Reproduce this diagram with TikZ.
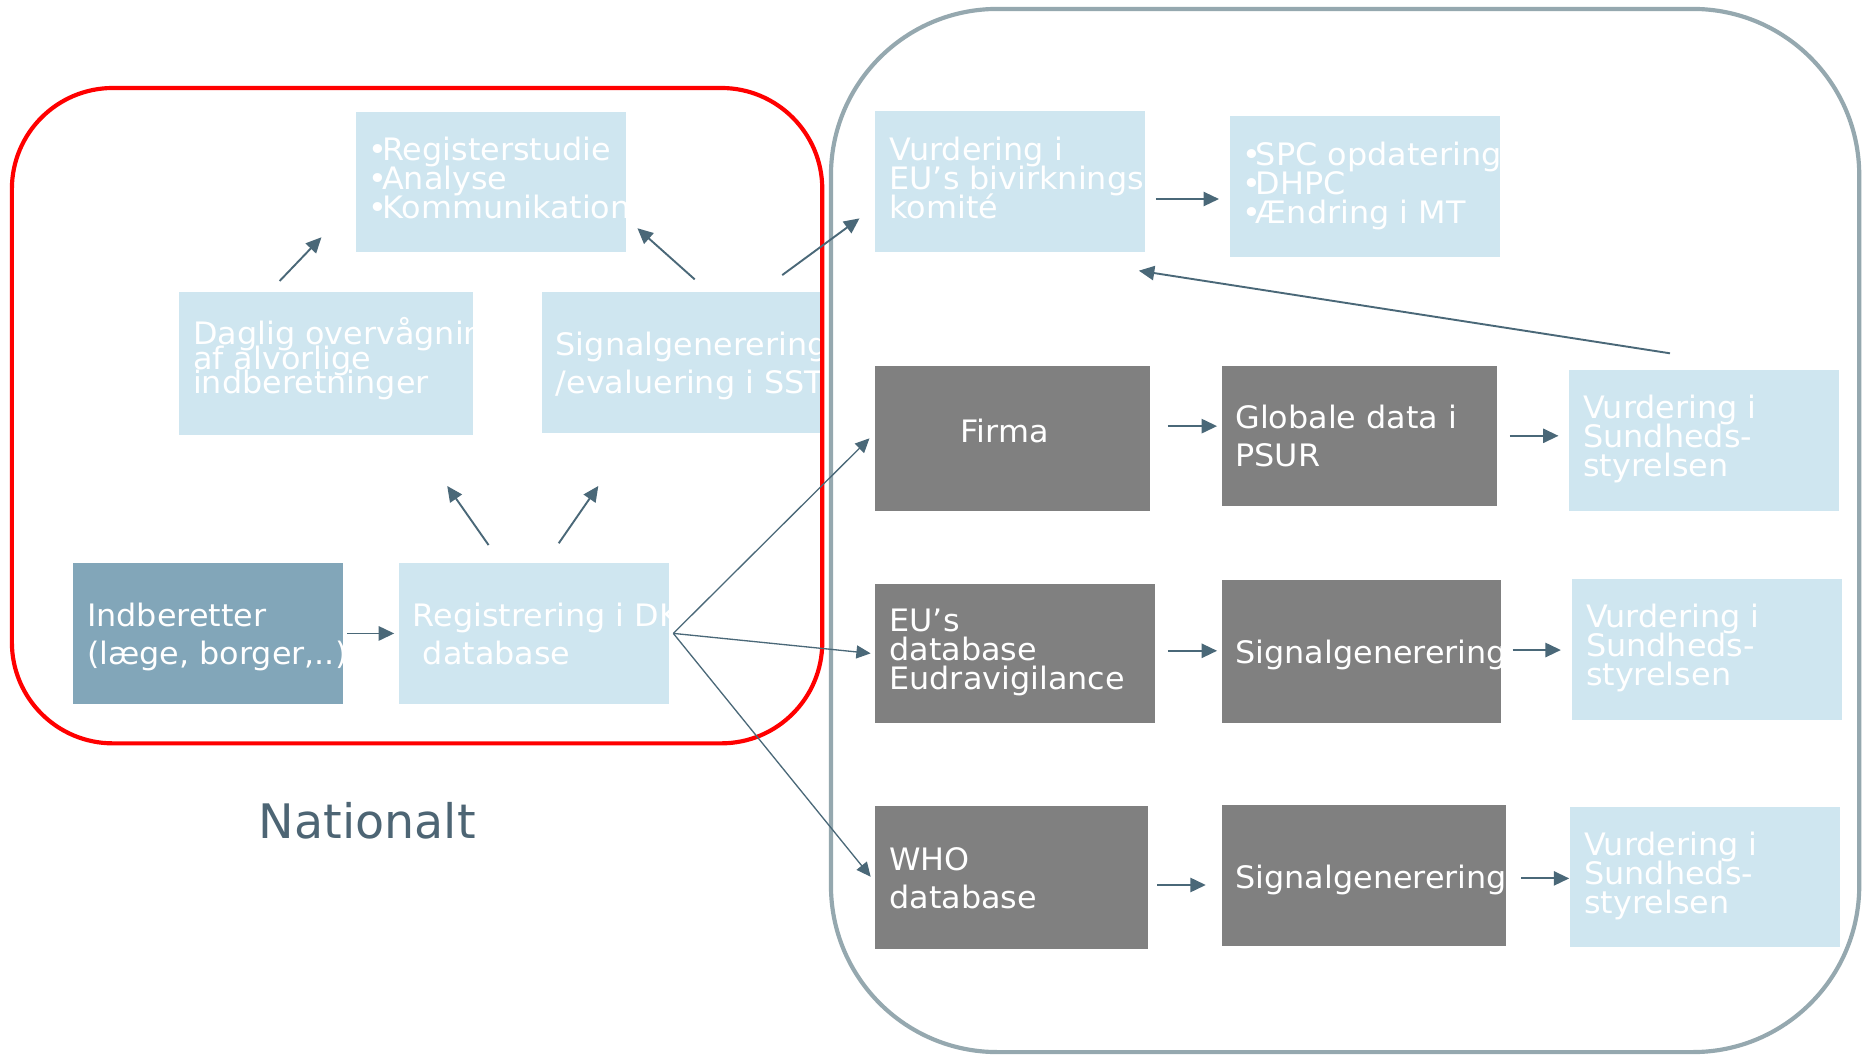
\documentclass[tikz,border=0pt]{standalone}
\usepackage{fontspec}
\setmainfont{DejaVu Sans}
\newfontfamily\boxfont{DejaVu Sans}[FakeStretch=1.03]
\usetikzlibrary{arrows.meta,calc}
\definecolor{lb}{HTML}{CFE6F0}
\definecolor{ib}{HTML}{82A6B9}
\definecolor{gb}{HTML}{808080}
\definecolor{arrc}{HTML}{4A6878}
\definecolor{framec}{HTML}{95A8AF}
\definecolor{natc}{HTML}{4D6574}
\newcommand\ml[2]{\vtop{\baselineskip=#1\lineskiplimit=-200pt\lineskip=0pt\relax#2}}
\newcommand\bul{•\kern-4.5pt}
\newcommand\mkbox[6]{\node[#1, minimum width={(#5)-(#3)}, minimum height={(#6)-(#4)}] (#2) at (#3,#4) {};}
\newcommand\bt[4]{\begin{scope}\clip (#1.south west) rectangle (#1.north east);
  \node[txt] (#1-t) at (#2,#3) {#4};\end{scope}}
\tikzset{
  bx/.style={anchor=north west, inner sep=0pt, outer sep=0pt, draw=none},
  lbx/.style={bx, fill=lb},
  ibx/.style={bx, fill=ib},
  gbx/.style={bx, fill=gb},
  txt/.style={inner sep=0pt, anchor=base west, text=white, font=\boxfont\fontsize{26}{30}\selectfont},
  arr/.style={draw=arrc, line width=1.6pt, -{Triangle[length=13pt,width=12pt]}},
  fan/.style={draw=arrc, line width=1.1pt, -{Triangle[length=12pt,width=11pt]}},
  frameR/.style={draw=red, line width=3.5pt, rounded corners=85pt},
  frameG/.style={draw=framec, line width=3.5pt, rounded corners=140pt},
}
\begin{document}
\begin{tikzpicture}[x=1pt,y=-1pt]
\useasboundingbox[fill=white] (0,0) rectangle (1568,887);
% boxes
\mkbox{lbx}{regs}{299.5}{94}{526.6}{212}
\mkbox{lbx}{dag}{150.5}{245.6}{398}{366}
\mkbox{lbx}{sst}{456}{245.6}{691.5}{364}
\mkbox{ibx}{ind}{61.3}{473.7}{288.4}{592}
\mkbox{lbx}{reg}{335.6}{473.7}{562.8}{592}
\mkbox{lbx}{euv}{736}{93.4}{963}{212}
\mkbox{lbx}{spc}{1034.6}{97.6}{1261.8}{216}
\mkbox{gbx}{firma}{736}{307.6}{967.4}{429.9}
\mkbox{gbx}{glob}{1028}{307.6}{1259}{425.6}
\mkbox{lbx}{va}{1320}{311.2}{1547}{429.6}
\mkbox{gbx}{eudb}{735.7}{491.5}{971.4}{608}
\mkbox{gbx}{sigb}{1028}{488}{1263}{608}
\mkbox{lbx}{vb}{1322.5}{487}{1549.5}{605.7}
\mkbox{gbx}{who}{735.7}{677.7}{965.7}{798.6}
\mkbox{gbx}{sigc}{1028}{677.4}{1267}{796}
\mkbox{lbx}{vc}{1320.7}{678.9}{1548}{797}
% texts
\bt{regs}{310}{135.4}{\ml{24.3pt}{\hbox{\bul Registerstudie}\hbox{\bul Analyse}\hbox{\bul Kommunikation}}}
\bt{dag}{162.2}{290.2}{\ml{20.3pt}{\hbox{Daglig overvågning}\hbox{af alvorlige}\hbox{indberetninger}}}
\bt{sst}{467.3}{298.9}{\ml{32pt}{\hbox{Signalgenerering}\hbox{/evaluering i SST}}}
\bt{ind}{73}{527.2}{\ml{31.4pt}{\hbox{Indberetter}\hbox{(læge, borger,..)}}}
\bt{reg}{347}{527.2}{\ml{31.4pt}{\hbox{Registrering i DK}\hbox{\ database}}}
\bt{euv}{748}{134.6}{\ml{24.5pt}{\hbox{Vurdering i}\hbox{EU’s bivirknings}\hbox{komité}}}
\bt{spc}{1045}{138.8}{\ml{24.5pt}{\hbox{\bul SPC opdatering}\hbox{\bul DHPC}\hbox{\bul Ændring i MT}}}
\bt{firma}{808}{372.4}{Firma}
\bt{glob}{1039}{360.3}{\ml{32.3pt}{\hbox{Globale data i}\hbox{PSUR}}}
\bt{va}{1331.7}{351.9}{\ml{24.5pt}{\hbox{Vurdering i}\hbox{Sundheds-}\hbox{styrelsen}}}
\bt{eudb}{748}{531.4}{\ml{24.5pt}{\hbox{EU’s}\hbox{database}\hbox{Eudravigilance}}}
\bt{sigb}{1039}{558}{Signalgenerering}
\bt{vb}{1334}{527.7}{\ml{24.5pt}{\hbox{Vurdering i}\hbox{Sundheds-}\hbox{styrelsen}}}
\bt{who}{748}{731.9}{\ml{32.2pt}{\hbox{WHO}\hbox{database}}}
\bt{sigc}{1039}{747.3}{Signalgenerering}
\bt{vc}{1332.5}{719.3}{\ml{24.5pt}{\hbox{Vurdering i}\hbox{Sundheds-}\hbox{styrelsen}}}
\node[inner sep=0pt, anchor=base west, text=natc, font=\fontsize{40}{48}\selectfont] (nat) at (217.6,705.2) {Nationalt};
% frames
\draw[frameR] (10,74) rectangle (691.7,625.3);
\draw[frameG] (699,7.5) rectangle (1564,885);
% connector points
\coordinate (dagS) at (235.2,236.4); \coordinate (dagE) at (270.4,199.6);
\coordinate (sstS) at (584.4,235);   \coordinate (sstE) at (536.2,192);
\coordinate (sstU) at (658,231.4);   \coordinate (euvE) at (723,183.7);
\coordinate (regA) at (411,458.5);   \coordinate (dagB) at (376.2,408.8);
\coordinate (regB) at (470,457);     \coordinate (sstB) at (503.3,408.8);
\coordinate (fanS) at (566.4,532.8);
\coordinate (firmaE) at (731.4,368.7);
\coordinate (eudbE) at (732.4,549.6);
\coordinate (whoE) at (732.4,737.5);
\coordinate (vaS) at (1404.8,297.2); \coordinate (euvF) at (958,227.7);
% connectors
\draw[arr] ([xshift=3.6pt]ind.east) -- ([xshift=-4pt]reg.west);
\draw[arr] (dagS) -- (dagE);
\draw[arr] (sstS) -- (sstE);
\draw[arr] (sstU) -- (euvE);
\draw[arr] (regA) -- (dagB);
\draw[arr] (regB) -- (sstB);
\draw[fan] (fanS) -- (firmaE);
\draw[fan] (fanS) -- (eudbE);
\draw[fan] (fanS) -- (whoE);
\draw[arr] (vaS) -- (euvF);
\draw[arr] ([xshift=9.4pt,yshift=-14.7pt]euv.east) -- ([xshift=-9.2pt,yshift=-14.7pt]euv.east -| spc.west);
\draw[arr] ([xshift=15pt,yshift=10.3pt]firma.east) -- ([xshift=-4.2pt,yshift=10.3pt]firma.east -| glob.west);
\draw[arr] ([xshift=11pt]glob.east) -- ([xshift=-9pt]glob.east -| va.west);
\draw[arr] ([xshift=11.1pt,yshift=2.3pt]eudb.east) -- ([xshift=-4.2pt,yshift=2.3pt]eudb.east -| sigb.west);
\draw[arr] ([xshift=9.5pt,yshift=1.2pt]sigb.east) -- ([xshift=-9.5pt,yshift=1.2pt]sigb.east -| vb.west);
\draw[arr] ([xshift=7.9pt,yshift=-6.3pt]who.east) -- ([xshift=-13.7pt,yshift=-6.3pt]who.east -| sigc.west);
\draw[arr] ([xshift=12.5pt,yshift=-2.2pt]sigc.east) -- ([xshift=-0.7pt,yshift=-2.2pt]sigc.east -| vc.west);
\end{tikzpicture}
\end{document}
